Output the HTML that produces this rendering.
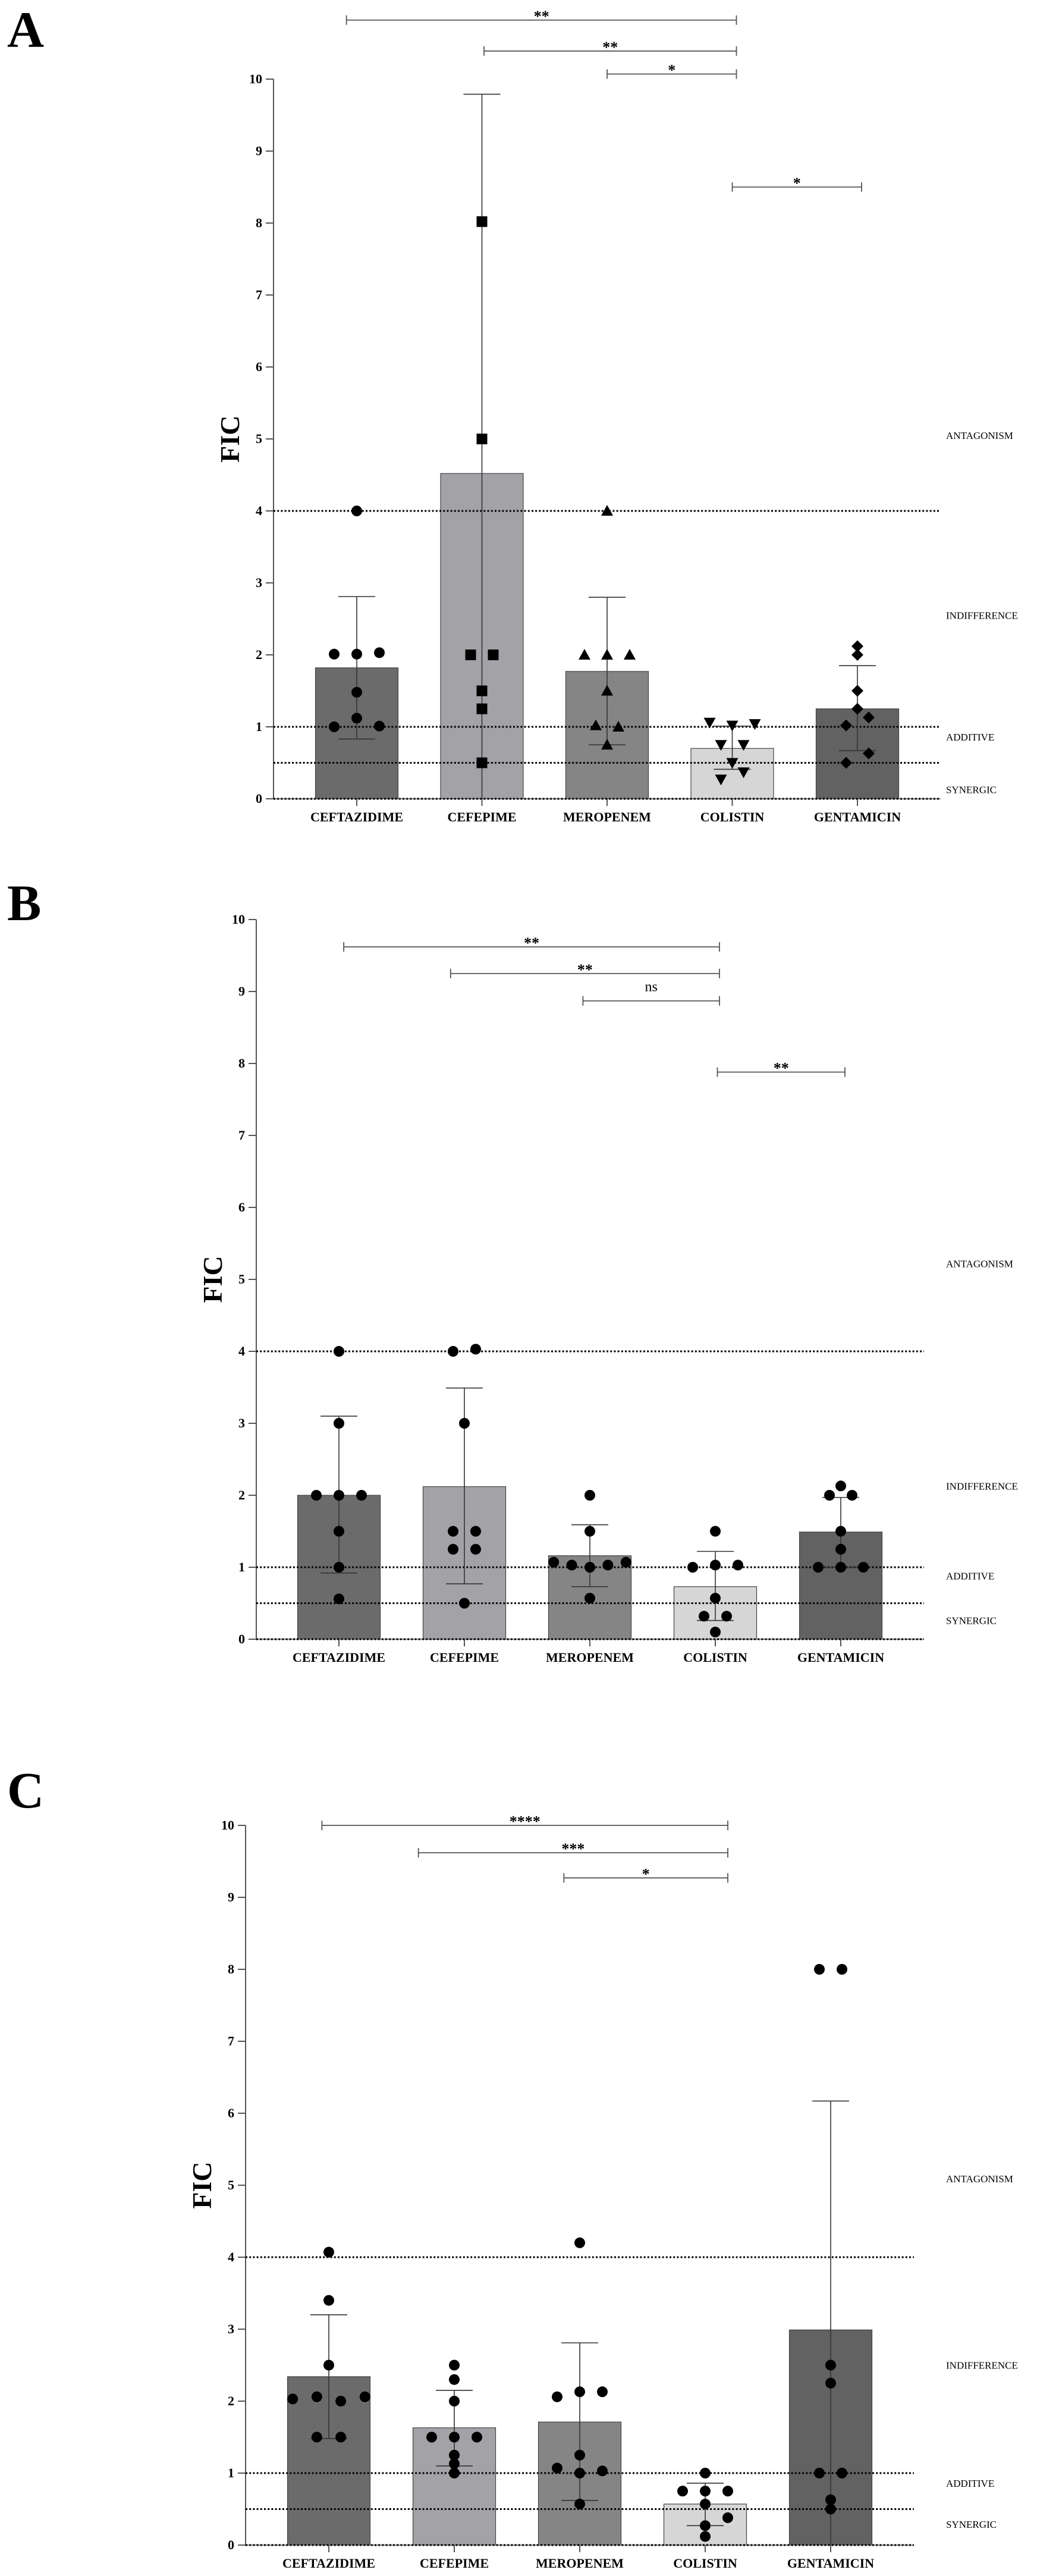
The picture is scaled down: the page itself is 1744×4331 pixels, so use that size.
<!DOCTYPE html>
<html><head><meta charset="utf-8"><style>
html,body{margin:0;padding:0;background:#fff;}
svg{display:block;}
text{font-family:"Liberation Serif",serif;}
</style></head><body>
<svg id="chart" width="1744" height="4331" viewBox="0 0 1744 4331" xmlns="http://www.w3.org/2000/svg"></svg>
<script>
const categories = ["CEFTAZIDIME","CEFEPIME","MEROPENEM","COLISTIN","GENTAMICIN"];
const yTicks = [0,1,2,3,4,5,6,7,8,9,10];
const thresholdLines = [0,0.5,1,4];
const zoneLabels = ["ANTAGONISM","INDIFFERENCE","ADDITIVE","SYNERGIC"];
const panelLetters = ["A","B","C"];
const barColors = ["#6b6b6b","#a3a2a7","#858585","#d6d6d6","#626262"];

// Panel A
const meansA = [1.82,4.52,1.77,0.70,1.25];
const errHiA = [2.81,9.79,2.80,1.01,1.85];
const errLoA = [0.83,0,0.75,0.41,0.67];
const pointsA = [
  [[2.01,-1],[2.01,0],[2.03,1],[4.0,0],[1.48,0],[1.12,0],[1.0,-1],[1.01,1]],
  [[8.02,0],[5.0,0],[2.0,-0.5],[2.0,0.5],[1.5,0],[1.25,0],[0.5,0]],
  [[4.0,0],[2.0,-1],[2.0,0],[2.0,1],[1.5,0],[1.02,-0.5],[1.0,0.5],[0.75,0]],
  [[1.06,-1],[1.02,0],[1.04,1],[0.75,-0.5],[0.75,0.5],[0.5,0],[0.27,-0.5],[0.37,0.5]],
  [[2.12,0],[2.0,0],[1.5,0],[1.25,0],[1.02,-0.5],[1.13,0.5],[0.5,-0.5],[0.63,0.5]]
];
const zoneValsA = [5.05,2.55,0.86,0.13];
const sigA = [["**",0,3,10.82,-0.15],["**",1,3,10.39,0.03],["*",2,3,10.07,0],["*",3,4,8.5,0]];

// Panel B
const meansB = [2.0,2.12,1.16,0.73,1.49];
const errHiB = [3.1,3.49,1.59,1.22,1.97];
const errLoB = [0.92,0.77,0.73,0.26,1.0];
const pointsB = [
  [[4.0,0],[3.0,0],[2.0,-1],[2.0,0],[2.0,1],[1.5,0],[1.0,0],[0.56,0]],
  [[4.0,-0.5],[4.03,0.5],[3.0,0],[1.5,-0.5],[1.5,0.5],[1.25,-0.5],[1.25,0.5],[0.5,0]],
  [[2.0,0],[1.5,0],[1.07,-1.6],[1.03,-0.8],[1.0,0],[1.03,0.8],[1.07,1.6],[0.57,0]],
  [[1.5,0],[1.0,-1],[1.03,0],[1.03,1],[0.57,0],[0.32,-0.5],[0.32,0.5],[0.1,0]],
  [[2.13,0],[2.0,-0.5],[2.0,0.5],[1.5,0],[1.25,0],[1.0,-1],[1.0,0],[1.0,1]]
];
const zoneValsB = [5.22,2.13,0.88,0.26];
const sigB = [["**",0,3,9.62,0.07],["**",1,3,9.25,-0.2],["ns",2,3,8.87,-0.1],["**",3,4,7.88,0.03]];

// Panel C
const meansC = [2.34,1.63,1.71,0.57,2.99];
const errHiC = [3.2,2.15,2.81,0.86,6.17];
const errLoC = [1.48,1.1,0.62,0.27,0];
const pointsC = [
  [[4.07,0],[3.4,0],[2.5,0],[2.03,-1.6],[2.06,-0.53],[2.0,0.53],[2.06,1.6],[1.5,-0.53],[1.5,0.53]],
  [[2.5,0],[2.3,0],[2.0,0],[1.5,-1],[1.5,0],[1.5,1],[1.25,0],[1.13,0],[1.0,0]],
  [[4.2,0],[2.06,-1],[2.13,0],[2.13,1],[1.25,0],[1.07,-1],[1.0,0],[1.03,1],[0.57,0]],
  [[1.0,0],[0.75,-1],[0.75,0],[0.75,1],[0.57,0],[0.38,1],[0.27,0],[0.12,0]],
  [[8.0,-0.5],[8.0,0.5],[2.5,0],[2.25,0],[1.0,-0.5],[1.0,0.5],[0.63,0],[0.5,0]]
];
const zoneValsC = [5.09,2.5,0.86,0.29];
const sigC = [["****",0,3,10.0,-0.1],["***",1,3,9.62,-0.52],["*",2,3,9.27,-0.23]];

const panels = [
  {ax:460,y0:1343,c0:600,dx:210.5,end:1582,letterY:79,means:meansA,hi:errHiA,lo:errLoA,pts:pointsA,zones:zoneValsA,sig:sigA,shapes:["circle","square","tri","dtri","diamond"],starsEnd:[ -0.1,0.03]},
  {ax:431,y0:2756,c0:570,dx:211,end:1554,letterY:1547,means:meansB,hi:errHiB,lo:errLoB,pts:pointsB,zones:zoneValsB,sig:sigB,shapes:["circle","circle","circle","circle","circle"]},
  {ax:413,y0:4279,c0:553,dx:211,end:1537,letterY:3039,means:meansC,hi:errHiC,lo:errLoC,pts:pointsC,zones:zoneValsC,sig:sigC,shapes:["circle","circle","circle","circle","circle"]}
];
const UNIT = 121, BARW = 139, JIT = 38, CAP = 31;
const svg = document.getElementById('chart');
const NS = "http://www.w3.org/2000/svg";
function mk(tag, attrs, parent){const e=document.createElementNS(NS,tag);for(const k in attrs)e.setAttribute(k,attrs[k]);parent.appendChild(e);return e;}

panels.forEach((p,pi)=>{
  const yS = v => p.y0 - v*UNIT;
  const xS = i => p.c0 + i*p.dx;
  const g = mk('g',{},svg);
  
  
  const L = mk('text',{x:12,y:p.letterY,'font-size':86,'font-weight':'bold'},g);
  L.textContent = panelLetters[pi];
  
  
  // y axis
  const axl = mk('line',{x1:p.ax,y1:yS(10),x2:p.ax,y2:yS(0),stroke:'#555','stroke-width':2},g);
  
  
  yTicks.forEach(t=>{
    mk('line',{x1:p.ax-13,y1:yS(t),x2:p.ax,y2:yS(t),stroke:'#555','stroke-width':2},g);
    const tl = mk('text',{x:p.ax-19,y:yS(t)+7,'font-size':22,'font-weight':'bold','text-anchor':'end'},g);
    tl.textContent = t;
    
    
  });
  const ft = mk('text',{x:0,y:0,'font-size':46,'font-weight':'bold','text-anchor':'middle',transform:`translate(${p.ax-58},${yS(5)}) rotate(-90)`},g);
  ft.textContent = 'FIC';
  
  
  // bars
  categories.forEach((c,i)=>{
    const b = mk('rect',{x:xS(i)-BARW/2,y:yS(p.means[i]),width:BARW,height:p.means[i]*UNIT,fill:barColors[i],stroke:'#444','stroke-width':1.2},g);
    
    
  });
  // x axis
  mk('line',{x1:p.ax,y1:p.y0,x2:p.end,y2:p.y0,stroke:'#666','stroke-width':1.5},g);
  categories.forEach((c,i)=>{
    mk('line',{x1:xS(i),y1:p.y0,x2:xS(i),y2:p.y0+12,stroke:'#555','stroke-width':2},g);
    const cl = mk('text',{x:xS(i),y:p.y0+38,'font-size':22,'font-weight':'bold','text-anchor':'middle'},g);
    cl.textContent = c;
    
    
  });
  // threshold lines
  thresholdLines.forEach(v=>{
    const l = mk('line',{x1:p.ax,y1:yS(v),x2:p.end,y2:yS(v),stroke:'#000','stroke-width':3,'stroke-dasharray':'3 3.2'},g);
    
    
  });
  zoneLabels.forEach((z,k)=>{
    const zl = mk('text',{x:1591,y:yS(p.zones[k])+6,'font-size':17},g);
    zl.textContent = z;
    
    
  });
  // error bars
  categories.forEach((c,i)=>{
    const x = xS(i);
    const e = mk('g',{stroke:'#333','stroke-width':1.6},g);
    
    
    mk('line',{x1:x,y1:yS(p.hi[i]),x2:x,y2:yS(p.lo[i])},e);
    mk('line',{x1:x-CAP,y1:yS(p.hi[i]),x2:x+CAP,y2:yS(p.hi[i])},e);
    if(p.lo[i]>0) mk('line',{x1:x-CAP,y1:yS(p.lo[i]),x2:x+CAP,y2:yS(p.lo[i])},e);
  });
  // points
  categories.forEach((c,i)=>{
    const shape = p.shapes[i];
    p.pts[i].forEach(([v,j])=>{
      const cx = xS(i)+j*JIT, cy = yS(v);
      let m;
      if(shape==='circle') m = mk('circle',{cx:cx,cy:cy,r:9,fill:'#000'},g);
      else if(shape==='square') m = mk('rect',{x:cx-9,y:cy-9,width:18,height:18,fill:'#000'},g);
      else if(shape==='tri') m = mk('polygon',{points:`${cx},${cy-10} ${cx+10},${cy+8} ${cx-10},${cy+8}`,fill:'#000'},g);
      else if(shape==='dtri') m = mk('polygon',{points:`${cx-10},${cy-8} ${cx+10},${cy-8} ${cx},${cy+10}`,fill:'#000'},g);
      else m = mk('polygon',{points:`${cx},${cy-10} ${cx+10},${cy} ${cx},${cy+10} ${cx-10},${cy}`,fill:'#000'},g);
      
      
    });
  });
  // significance brackets
  p.sig.forEach(([lab,a,b,v,off])=>{
    const x1 = xS(a)+off*JIT*(a===0?1:1) - (a===0?0:0);
    const x1a = xS(a) + off*p.dx*0.55;
    const x2 = xS(b)+ (pi===2?38:7);
    const y = yS(v);
    const s = mk('g',{stroke:'#555','stroke-width':1.8},g);
    
    
    mk('line',{x1:x1a,y1:y,x2:x2,y2:y},s);
    mk('line',{x1:x1a,y1:y-8,x2:x1a,y2:y+8},s);
    mk('line',{x1:x2,y1:y-8,x2:x2,y2:y+8},s);
    const st = mk('text',{x:(x1a+x2)/2,y:lab==='ns'?y-16:y+2,'font-size':lab==='ns'?24:26,'font-weight':lab==='ns'?'normal':'bold','text-anchor':'middle','font-family':lab==='ns'?'Liberation Sans, sans-serif':'Liberation Serif, serif'},g);
    st.textContent = lab;
    
    
  });
});
</script>
</body></html>
